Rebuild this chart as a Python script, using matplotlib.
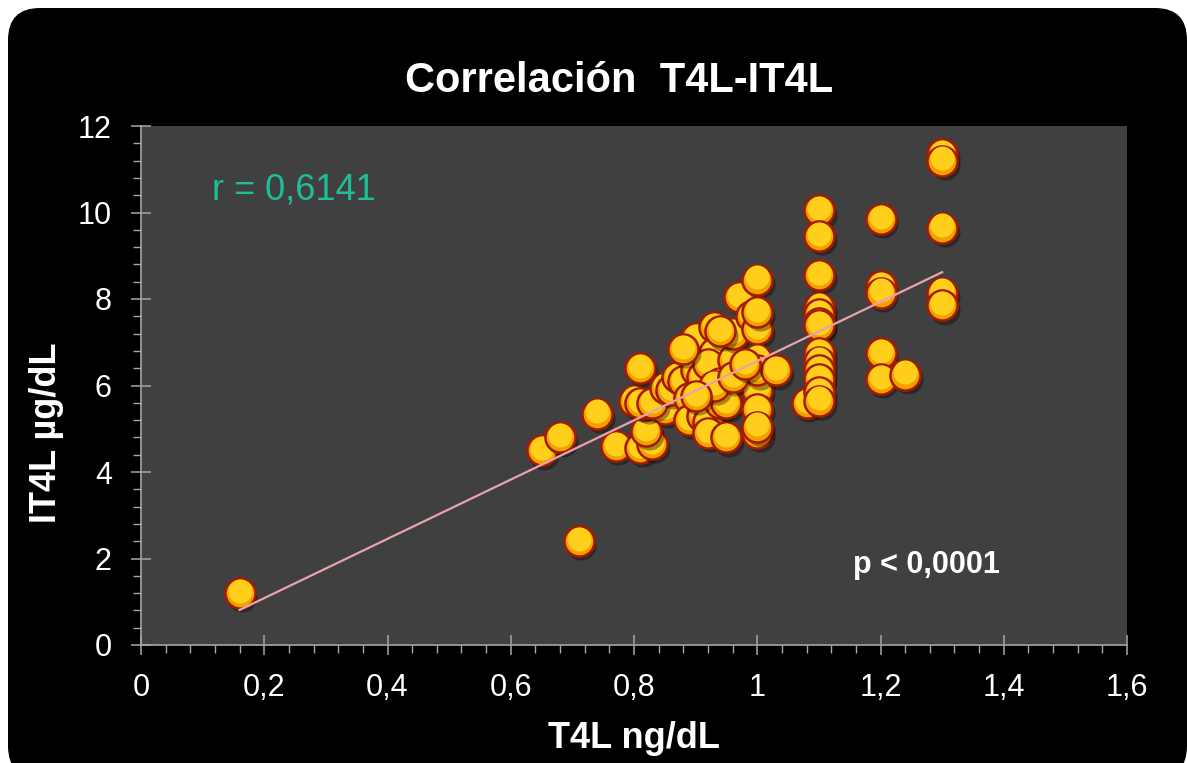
import numpy as np
import matplotlib.pyplot as plt
import matplotlib.transforms as mtransforms
from matplotlib.patches import FancyBboxPatch

plt.rcParams['font.family'] = ['Liberation Sans', 'DejaVu Sans']

# ------------------------------------------------------------------ #
# Data
# ------------------------------------------------------------------ #
t4l = [0.16, 0.71, 0.65, 0.68, 0.74, 0.77, 0.81, 0.81, 0.83, 0.82,
       0.80, 0.82, 0.85, 0.81, 0.83, 0.85, 0.86, 0.87, 0.88, 0.89,
       0.89, 0.89, 0.90, 0.90, 0.91, 0.91, 0.92, 0.92, 0.93, 0.93,
       0.92, 0.94, 0.94, 0.95, 0.95, 0.96, 0.96, 0.97, 0.99, 1.00,
       1.00, 1.00, 1.00, 1.00, 1.00, 1.00, 1.00, 1.00, 1.00, 1.03,
       1.08, 1.10, 1.10, 1.10, 1.10, 1.10, 1.10, 1.10, 1.10, 1.10,
       1.10, 1.10, 1.10, 1.10, 1.20, 1.20, 1.20, 1.20, 1.20, 1.24,
       1.30, 1.30, 1.30, 1.30, 1.30, 0.88, 0.94, 0.93, 0.90, 0.96,
       0.98]
it4l = [1.20, 2.40, 4.50, 4.80, 5.35, 4.60, 6.40, 4.55, 4.65, 4.95,
        5.65, 5.55, 5.45, 5.60, 5.60, 5.95, 5.90, 6.20, 6.10, 5.70,
        5.20, 6.90, 7.10, 6.35, 6.20, 5.30, 5.15, 4.90, 7.35, 6.75,
        6.50, 6.05, 5.60, 4.80, 5.60, 6.60, 7.20, 8.05, 7.60, 8.45,
        7.30, 6.60, 6.10, 5.90, 5.45, 4.90, 5.05, 7.70, 6.35, 6.35,
        5.60, 10.05, 9.45, 8.55, 7.80, 7.65, 7.45, 7.40, 6.75, 6.55,
        6.35, 6.15, 5.85, 5.65, 9.85, 8.30, 8.15, 6.75, 6.15, 6.25,
        11.35, 11.20, 9.65, 8.15, 7.85, 6.85, 7.25, 6.00, 5.75, 6.20,
        6.50]

# linear trendline as shown in the chart (start / end)
trend_x = [0.16, 1.30]
trend_y = [0.81, 8.62]

x_ticks = [0, 0.2, 0.4, 0.6, 0.8, 1.0, 1.2, 1.4, 1.6]
x_tick_labels = ["0", "0,2", "0,4", "0,6", "0,8", "1", "1,2", "1,4", "1,6"]
y_ticks = [0, 2, 4, 6, 8, 10, 12]
y_tick_labels = ["0", "2", "4", "6", "8", "10", "12"]

r_text = "r = 0,6141"
p_text = "p < 0,0001"

# ------------------------------------------------------------------ #
# Figure
# ------------------------------------------------------------------ #
fig = plt.figure(figsize=(11.87, 7.63), dpi=100, facecolor="white")

# black rounded panel (pixel coordinates), behind the axes
panel = FancyBboxPatch((8, -15), 1179, 770, boxstyle="round,pad=0,rounding_size=32",
                       transform=mtransforms.IdentityTransform(),
                       facecolor="black", edgecolor="none", zorder=-5)
fig.patches.append(panel)

ax = fig.add_axes([141 / 1187, 1 - 645 / 763, 986 / 1187, 519 / 763])
ax.set_facecolor("#404040")
ax.set_xlim(0, 1.6)
ax.set_ylim(0, 12)

ax.plot(trend_x, trend_y, color="#E9A3AC", lw=1.6, zorder=500)

# glossy bubbles: shadow, orange base, yellow top
shadow_tr = ax.transData + mtransforms.ScaledTranslation(2 / 72, -3 / 72, fig.dpi_scale_trans)
top_tr = ax.transData + mtransforms.ScaledTranslation(0, 1.6 / 72, fig.dpi_scale_trans)
for i, (xv, yv) in enumerate(zip(t4l, it4l)):
    z = 2 + i * 0.01
    ax.scatter(xv, yv, s=470, color="black", alpha=0.35, lw=0,
               transform=shadow_tr, zorder=z)
    ax.scatter(xv, yv, s=470, facecolor="#F2A000", edgecolor="#A51A00",
               lw=1.8, zorder=z + 0.002)
    ax.scatter(xv, yv, s=300, facecolor="#FFCF1C", lw=0,
               transform=top_tr, zorder=z + 0.004)

# axes style
for side in ("top", "right"):
    ax.spines[side].set_visible(False)
for side in ("left", "bottom"):
    ax.spines[side].set_color("#A6A6A6")
    ax.spines[side].set_linewidth(1.2)

ax.set_xticks(x_ticks)
ax.set_xticklabels(x_tick_labels)
ax.set_yticks(y_ticks)
ax.set_yticklabels(y_tick_labels)
ax.set_xticks(np.arange(0, 1.6001, 0.04), minor=True)
ax.set_yticks(np.arange(0, 12.001, 0.4), minor=True)
ax.tick_params(which="major", direction="inout", length=14, width=1.1,
               color="#A6A6A6", labelcolor="white", labelsize=22)
ax.tick_params(axis="x", which="major", pad=13)
ax.tick_params(axis="y", which="major", pad=14)
ax.tick_params(which="minor", direction="out", length=6, width=1.0,
               color="#A6A6A6")

ax.text(0.072, 0.877, r_text, transform=ax.transAxes, color="#1DBE98",
        fontsize=26, va="center", ha="left")
ax.text(0.722, 0.154, p_text, transform=ax.transAxes, color="white",
        fontsize=22, fontweight="bold", va="center", ha="left")

fig.text(619 / 1187, 1 - 81 / 763, "Correlación  T4L-IT4L", color="white",
         fontsize=30, fontweight="bold", ha="center", va="center")
fig.text(634 / 1187, 1 - 738 / 763, "T4L ng/dL", color="white",
         fontsize=26, fontweight="bold", ha="center", va="center")
fig.text(47 / 1187, 1 - 433 / 763, "IT4L µg/dL", color="white",
         fontsize=26, fontweight="bold", ha="center", va="center", rotation=90)

fig.savefig("out.png", dpi=100, facecolor=fig.get_facecolor())
